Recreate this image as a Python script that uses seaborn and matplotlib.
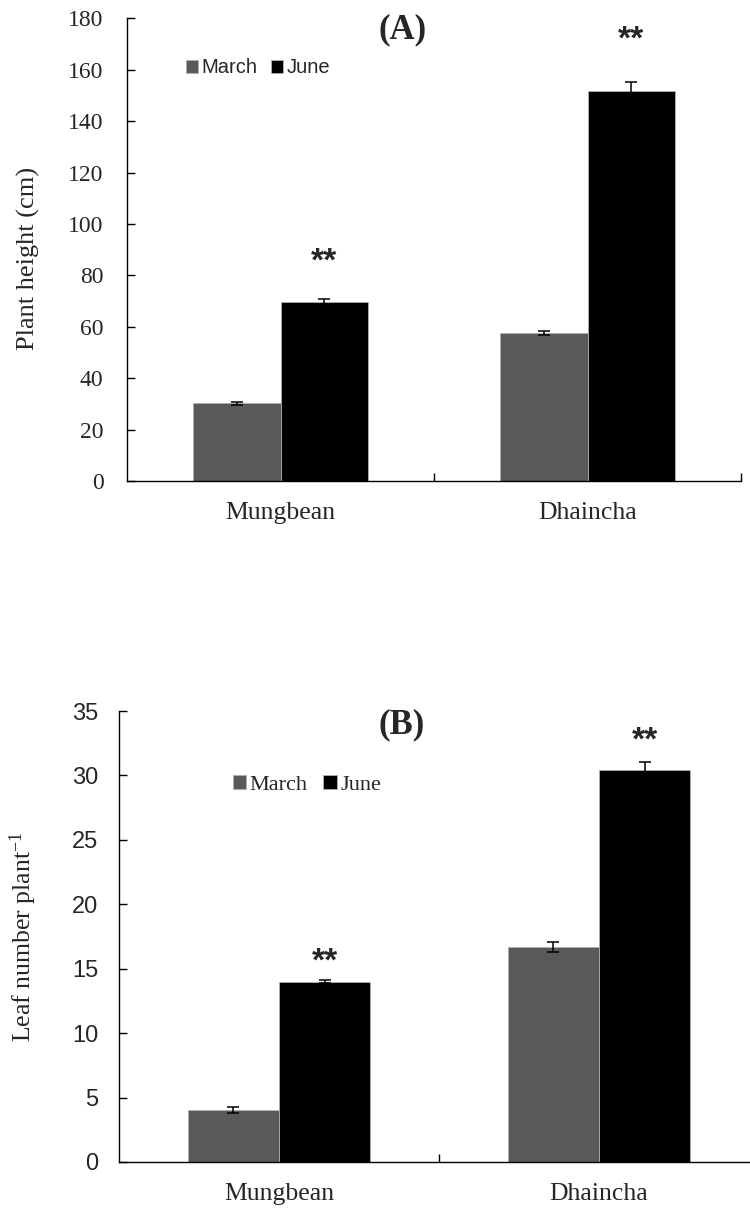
import numpy as np
import pandas as pd
import seaborn as sb
import matplotlib.pyplot as plt
from matplotlib.ticker import FixedLocator

crops = ['Mungbean', 'Dhaincha']
months = ['March', 'June']

height_march = [30.2, 57.7]
height_june = [69.8, 151.8]
height_march_err = [0.7, 0.8]
height_june_err = [1.2, 3.5]
height_stars = [85.3, 171.7]

leaf_march = [4.0, 16.7]
leaf_june = [14.0, 30.4]
leaf_march_err = [0.23, 0.37]
leaf_june_err = [0.13, 0.67]
leaf_stars = [15.5, 32.7]

sb.set_style('white')
plt.rcParams['mathtext.fontset'] = 'custom'
plt.rcParams['mathtext.rm'] = 'Liberation Serif'
plt.rcParams['mathtext.it'] = 'Liberation Serif:italic'

serif = 'Liberation Serif'
sans = 'Liberation Sans'
colors = {'March': '#595959', 'June': '#000000'}


def panel(ax, march, june, march_err, june_err, stars, ymax, ystep,
          ylabel, ylabel_size, tick_family, legend_family, legend_size, legend_pos,
          tag, tag_pos, ylab_pos, ypad):
    df = pd.DataFrame({'crop': crops * 2,
                       'month': [months[0]] * 2 + [months[1]] * 2,
                       'value': march + june})
    sb.barplot(data=df, x='crop', y='value', hue='month', palette=colors, width=0.57,
               errorbar=None, edgecolor='#b0b0b0', linewidth=0.6, saturation=1, ax=ax)
    for cont, errs in zip(ax.containers, [march_err, june_err]):
        xs = [p.get_x() + p.get_width() / 2 for p in cont.patches]
        ys = [p.get_height() for p in cont.patches]
        ax.errorbar(xs, ys, yerr=errs, fmt='none', ecolor='black', elinewidth=1.1,
                    capsize=4.2, capthick=1.1, zorder=5)
    june_bars = ax.containers[1].patches
    for p, s in zip(june_bars, stars):
        ax.text(p.get_x() + p.get_width() / 2, s, '**', ha='center', va='center',
                fontsize=24, fontweight='bold', family=sans)

    ax.set_xlim(-0.5, 1.5)
    ax.set_ylim(0, ymax)
    ax.set_yticks(np.arange(0, ymax + ystep / 2, ystep))
    ax.xaxis.set_minor_locator(FixedLocator([0.5, 1.5]))
    ax.tick_params(axis='x', which='major', length=0, pad=15)
    ax.tick_params(axis='x', which='minor', bottom=True, direction='in', length=6,
                   width=1, color='black')
    ax.tick_params(axis='y', which='major', left=True, direction='in', length=6, width=1,
                   color='black', pad=ypad)
    for t in ax.get_xticklabels():
        t.set_family(serif)
        t.set_fontsize(18.5)
    for t in ax.get_yticklabels():
        t.set_family(tick_family)
        t.set_fontsize(17)
    ax.set_xlabel('')
    ax.set_ylabel(ylabel, family=serif, fontsize=ylabel_size, va='center')
    ax.yaxis.set_label_coords(*ylab_pos)
    sb.despine(ax=ax)
    for sp in ['left', 'bottom']:
        ax.spines[sp].set_color('black')
        ax.spines[sp].set_linewidth(1.0)

    old = ax.get_legend()
    handles = old.legend_handles
    labels = [t.get_text() for t in old.texts]
    old.remove()
    ax.legend(handles, labels, loc='center left', bbox_to_anchor=legend_pos, ncol=2,
              frameon=False, borderpad=0, handlelength=0.6, handleheight=0.6,
              handletextpad=0.15, columnspacing=0.7,
              prop={'family': legend_family, 'size': legend_size})
    ax.text(tag_pos[0], tag_pos[1], tag, transform=ax.transAxes, ha='center', va='center',
            fontsize=25, fontweight='bold', family=serif)


fig = plt.figure(figsize=(7.5, 12.11), dpi=100)
ax1 = fig.add_axes([127 / 750, 1 - 481 / 1211, 614 / 750, 462.5 / 1211])
ax2 = fig.add_axes([119 / 750, 1 - 1162 / 1211, 640 / 750, 451 / 1211])

panel(ax1, height_march, height_june, height_march_err, height_june_err, height_stars,
      180, 20, 'Plant height (cm)', 19, serif, sans, 14.5, (0.08, 0.893),
      '(A)', (0.448, 0.975), (-0.161, 0.482), 17)
panel(ax2, leaf_march, leaf_june, leaf_march_err, leaf_june_err, leaf_stars,
      35, 5, 'Leaf number plant$^{-1}$', 18.5, sans, serif, 16, (0.161, 0.836),
      '(B)', (0.442, 0.969), (-0.15, 0.5), 15)

plt.savefig('out.png', dpi=100)
